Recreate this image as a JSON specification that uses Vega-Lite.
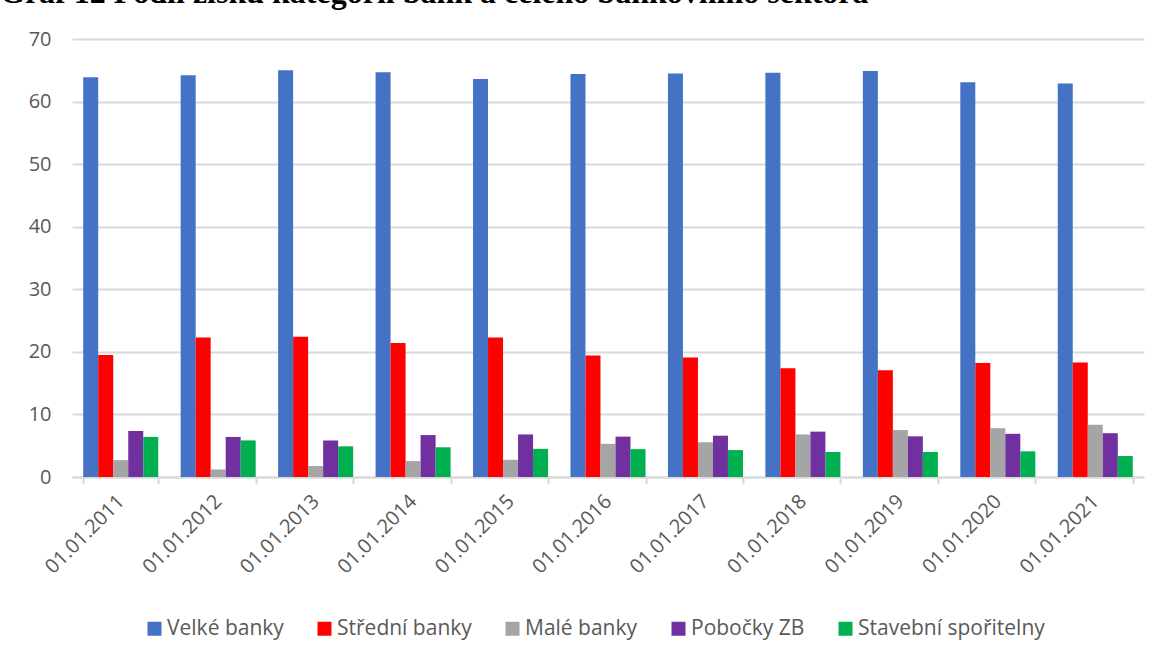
{
  "$schema": "https://vega.github.io/schema/vega-lite/v6.json",
  "width": 1072,
  "height": 438,
  "autosize": {"type": "none"},
  "padding": {"left": 72, "top": 39, "right": 20, "bottom": 184},
  "background": "white",
  "title": {
    "text": "Graf 12 Podíl zisku kategorií bank a celého bankovního sektora",
    "font": "Liberation Serif",
    "fontSize": 32,
    "fontWeight": "bold",
    "color": "black",
    "anchor": "start",
    "frame": "group",
    "baseline": "alphabetic",
    "offset": 21,
    "dx": -72,
    "dy": 27
  },
  "data": {
    "values": [
      {"d": "01.01.2011", "k": "Velké banky", "v": 63.9},
      {"d": "01.01.2011", "k": "Střední banky", "v": 19.5},
      {"d": "01.01.2011", "k": "Malé banky", "v": 2.7},
      {"d": "01.01.2011", "k": "Pobočky ZB", "v": 7.35},
      {"d": "01.01.2011", "k": "Stavební spořitelny", "v": 6.4},
      {"d": "01.01.2012", "k": "Velké banky", "v": 64.2},
      {"d": "01.01.2012", "k": "Střední banky", "v": 22.3},
      {"d": "01.01.2012", "k": "Malé banky", "v": 1.2},
      {"d": "01.01.2012", "k": "Pobočky ZB", "v": 6.4},
      {"d": "01.01.2012", "k": "Stavební spořitelny", "v": 5.85},
      {"d": "01.01.2013", "k": "Velké banky", "v": 65.0},
      {"d": "01.01.2013", "k": "Střední banky", "v": 22.4},
      {"d": "01.01.2013", "k": "Malé banky", "v": 1.75},
      {"d": "01.01.2013", "k": "Pobočky ZB", "v": 5.85},
      {"d": "01.01.2013", "k": "Stavební spořitelny", "v": 4.9},
      {"d": "01.01.2014", "k": "Velké banky", "v": 64.7},
      {"d": "01.01.2014", "k": "Střední banky", "v": 21.4},
      {"d": "01.01.2014", "k": "Malé banky", "v": 2.55},
      {"d": "01.01.2014", "k": "Pobočky ZB", "v": 6.7},
      {"d": "01.01.2014", "k": "Stavební spořitelny", "v": 4.75},
      {"d": "01.01.2015", "k": "Velké banky", "v": 63.6},
      {"d": "01.01.2015", "k": "Střední banky", "v": 22.3},
      {"d": "01.01.2015", "k": "Malé banky", "v": 2.75},
      {"d": "01.01.2015", "k": "Pobočky ZB", "v": 6.8},
      {"d": "01.01.2015", "k": "Stavební spořitelny", "v": 4.5},
      {"d": "01.01.2016", "k": "Velké banky", "v": 64.4},
      {"d": "01.01.2016", "k": "Střední banky", "v": 19.4},
      {"d": "01.01.2016", "k": "Malé banky", "v": 5.3},
      {"d": "01.01.2016", "k": "Pobočky ZB", "v": 6.45},
      {"d": "01.01.2016", "k": "Stavební spořitelny", "v": 4.45},
      {"d": "01.01.2017", "k": "Velké banky", "v": 64.5},
      {"d": "01.01.2017", "k": "Střední banky", "v": 19.1},
      {"d": "01.01.2017", "k": "Malé banky", "v": 5.55},
      {"d": "01.01.2017", "k": "Pobočky ZB", "v": 6.6},
      {"d": "01.01.2017", "k": "Stavební spořitelny", "v": 4.3},
      {"d": "01.01.2018", "k": "Velké banky", "v": 64.6},
      {"d": "01.01.2018", "k": "Střední banky", "v": 17.4},
      {"d": "01.01.2018", "k": "Malé banky", "v": 6.8},
      {"d": "01.01.2018", "k": "Pobočky ZB", "v": 7.25},
      {"d": "01.01.2018", "k": "Stavební spořitelny", "v": 4.0},
      {"d": "01.01.2019", "k": "Velké banky", "v": 64.9},
      {"d": "01.01.2019", "k": "Střední banky", "v": 17.05},
      {"d": "01.01.2019", "k": "Malé banky", "v": 7.5},
      {"d": "01.01.2019", "k": "Pobočky ZB", "v": 6.5},
      {"d": "01.01.2019", "k": "Stavební spořitelny", "v": 4.0},
      {"d": "01.01.2020", "k": "Velké banky", "v": 63.1},
      {"d": "01.01.2020", "k": "Střední banky", "v": 18.2},
      {"d": "01.01.2020", "k": "Malé banky", "v": 7.8},
      {"d": "01.01.2020", "k": "Pobočky ZB", "v": 6.9},
      {"d": "01.01.2020", "k": "Stavební spořitelny", "v": 4.1},
      {"d": "01.01.2021", "k": "Velké banky", "v": 62.9},
      {"d": "01.01.2021", "k": "Střední banky", "v": 18.3},
      {"d": "01.01.2021", "k": "Malé banky", "v": 8.35},
      {"d": "01.01.2021", "k": "Pobočky ZB", "v": 7.0},
      {"d": "01.01.2021", "k": "Stavební spořitelny", "v": 3.35}
    ]
  },
  "mark": {"type": "bar"},
  "encoding": {
    "x": {
      "field": "d",
      "type": "nominal",
      "sort": null,
      "title": null,
      "scale": {"paddingInner": 0.23, "paddingOuter": 0.115},
      "axis": {
        "labelAngle": -45,
        "labelAlign": "right",
        "labelBaseline": "middle",
        "labelFont": "Open Sans",
        "labelFontSize": 20,
        "labelColor": "#595959",
        "labelPadding": 14,
        "tickBand": "extent",
        "ticks": true,
        "tickSize": 7,
        "tickColor": "#d9d9d9",
        "tickWidth": 2,
        "domainColor": "#d9d9d9",
        "domainWidth": 2,
        "grid": false
      }
    },
    "xOffset": {
      "field": "k",
      "type": "nominal",
      "sort": ["Velké banky", "Střední banky", "Malé banky", "Pobočky ZB", "Stavební spořitelny"],
      "scale": {"paddingInner": 0, "paddingOuter": 0}
    },
    "y": {
      "field": "v",
      "type": "quantitative",
      "title": null,
      "scale": {"domain": [0, 70], "nice": false},
      "axis": {
        "values": [0, 10, 20, 30, 40, 50, 60, 70],
        "labelFont": "Open Sans",
        "labelFontSize": 20,
        "labelColor": "#595959",
        "labelPadding": 21,
        "ticks": false,
        "domain": false,
        "gridColor": "#d9d9d9",
        "gridWidth": 2
      }
    },
    "color": {
      "field": "k",
      "type": "nominal",
      "sort": ["Velké banky", "Střední banky", "Malé banky", "Pobočky ZB", "Stavební spořitelny"],
      "scale": {
        "domain": ["Velké banky", "Střední banky", "Malé banky", "Pobočky ZB", "Stavební spořitelny"],
        "range": ["#4472C4", "#FF0000", "#A5A5A5", "#7030A0", "#00B050"]
      },
      "legend": {
        "title": null,
        "orient": "none",
        "direction": "horizontal",
        "legendX": 72,
        "legendY": 579,
        "symbolType": "square",
        "symbolSize": 196,
        "symbolStrokeWidth": 0,
        "labelFont": "Open Sans",
        "labelFontSize": 21,
        "labelColor": "#595959",
        "labelOffset": 2,
        "labelLimit": 400,
        "columnPadding": 30
      }
    }
  },
  "config": {"view": {"stroke": null}}
}
